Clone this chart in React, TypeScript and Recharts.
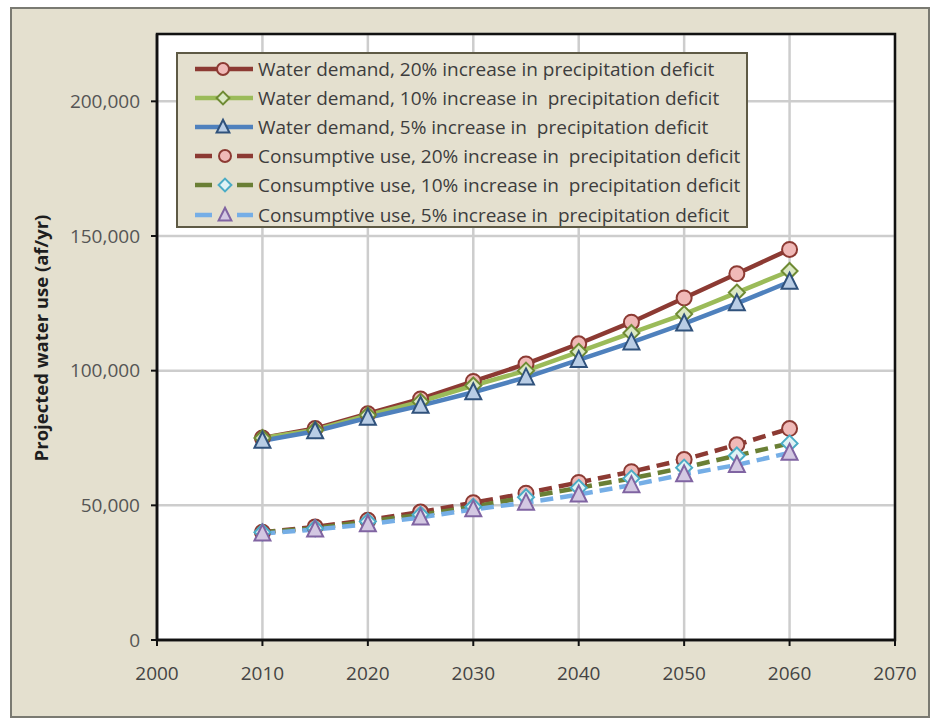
import React from "react";
import { CartesianGrid, Line, LineChart, ReferenceArea, XAxis, YAxis } from "recharts";

const years = [2010, 2015, 2020, 2025, 2030, 2035, 2040, 2045, 2050, 2055, 2060];
const demand20 = [75000, 78500, 84000, 89500, 96000, 102500, 110000, 118000, 127000, 136000, 145000];
const demand10 = [75000, 78000, 83500, 88500, 94500, 100000, 107000, 114000, 121000, 129000, 137000];
const demand5 = [74000, 77500, 82500, 87000, 92000, 97500, 104000, 110500, 117500, 125000, 133000];
const consumptive20 = [40000, 42000, 44500, 47500, 51000, 54500, 58500, 62500, 67000, 72500, 78500];
const consumptive10 = [40000, 41500, 44000, 46500, 49500, 53000, 56500, 60000, 64000, 68500, 73000];
const consumptive5 = [39500, 41000, 43000, 45500, 48500, 51000, 54000, 57500, 61500, 65000, 69500];

const xTicks = [2000, 2010, 2020, 2030, 2040, 2050, 2060, 2070];
const yTicks = [0, 50000, 100000, 150000, 200000];

const seriesLabels = [
  "Water demand, 20% increase in precipitation deficit",
  "Water demand, 10% increase in  precipitation deficit",
  "Water demand, 5% increase in  precipitation deficit",
  "Consumptive use, 20% increase in  precipitation deficit",
  "Consumptive use, 10% increase in  precipitation deficit",
  "Consumptive use, 5% increase in  precipitation deficit",
];

type Shape = "circle" | "diamond" | "triangle";

type SeriesConfig = {
  key: string;
  label: string;
  color: string;
  dashed: boolean;
  shape: Shape;
  markerFill: string;
  markerStroke: string;
};

const series: SeriesConfig[] = [
  { key: "demand20", label: seriesLabels[0], color: "#8c3a33", dashed: false, shape: "circle", markerFill: "#f0b9b7", markerStroke: "#8c3a33" },
  { key: "demand10", label: seriesLabels[1], color: "#9bbb59", dashed: false, shape: "diamond", markerFill: "#dbe8c4", markerStroke: "#6f8b34" },
  { key: "demand5", label: seriesLabels[2], color: "#4f81bd", dashed: false, shape: "triangle", markerFill: "#b9cde5", markerStroke: "#30527c" },
  { key: "consumptive20", label: seriesLabels[3], color: "#8c3a33", dashed: true, shape: "circle", markerFill: "#f0b9b7", markerStroke: "#8c3a33" },
  { key: "consumptive10", label: seriesLabels[4], color: "#6a7f35", dashed: true, shape: "diamond", markerFill: "#dff3f5", markerStroke: "#4bacc6" },
  { key: "consumptive5", label: seriesLabels[5], color: "#75aee6", dashed: true, shape: "triangle", markerFill: "#d3c8e2", markerStroke: "#8064a2" },
];

const data = years.map((year, i) => ({
  year,
  demand20: demand20[i],
  demand10: demand10[i],
  demand5: demand5[i],
  consumptive20: consumptive20[i],
  consumptive10: consumptive10[i],
  consumptive5: consumptive5[i],
}));

const Marker = ({ cx, cy, cfg, s = 1 }: { cx: number; cy: number; cfg: SeriesConfig; s?: number }) => {
  const common = { fill: cfg.markerFill, stroke: cfg.markerStroke, strokeWidth: 2 };
  if (cfg.shape === "circle") return <circle cx={cx} cy={cy} r={7.5 * s} {...common} />;
  if (cfg.shape === "diamond")
    return (
      <path
        d={`M${cx},${cy - 8 * s} L${cx + 8 * s},${cy} L${cx},${cy + 8 * s} L${cx - 8 * s},${cy} Z`}
        {...common}
      />
    );
  return (
    <path
      d={`M${cx},${cy - 9 * s} L${cx + 8 * s},${cy + 7 * s} L${cx - 8 * s},${cy + 7 * s} Z`}
      {...common}
    />
  );
};

const formatThousands = (v: number) => v.toLocaleString("en-US");

const font = "'Open Sans', sans-serif";

const LegendBox = () => (
  <div
    style={{
      position: "absolute",
      left: 176,
      top: 52,
      width: 572,
      height: 176,
      background: "#e4e0cf",
      border: "2px solid #5e5a45",
      boxSizing: "border-box",
      fontFamily: font,
      fontSize: 19,
      color: "#3d3d3d",
    }}
  >
    {series.map((s) => (
      <div key={s.key} style={{ display: "flex", alignItems: "center", height: 29.2 }}>
        <svg width={80} height={20} style={{ flex: "none" }}>
          {s.dashed ? (
            <>
              <line x1={17} y1={10} x2={34} y2={10} stroke={s.color} strokeWidth={4.5} />
              <line x1={59} y1={10} x2={75} y2={10} stroke={s.color} strokeWidth={4.5} />
            </>
          ) : (
            <line x1={17} y1={10} x2={75} y2={10} stroke={s.color} strokeWidth={4.5} />
          )}
          <Marker cx={s.dashed ? 47 : 45} cy={10} cfg={s} s={0.8} />
        </svg>
        <span style={{ whiteSpace: "pre" }}>{s.label}</span>
      </div>
    ))}
  </div>
);

export default function App() {
  return (
    <div style={{ position: "absolute", left: 0, top: 0, width: 938, height: 724, background: "#ffffff" }}>
      <div
        style={{
          position: "absolute",
          left: 10,
          top: 7,
          width: 920,
          height: 711,
          background: "#e4e0cf",
          border: "2px solid #7a7a72",
          boxSizing: "border-box",
        }}
      />
      <div
        style={{
          position: "absolute",
          left: 40,
          top: 338,
          transform: "translate(-50%, -50%) rotate(-90deg)",
          whiteSpace: "nowrap",
          fontFamily: font,
          fontWeight: 700,
          fontSize: 18.5,
          color: "#1e1e1e",
        }}
      >
        Projected water use (af/yr)
      </div>
      <div style={{ position: "absolute", left: 0, top: 0 }}>
        <LineChart
          width={938}
          height={724}
          data={data}
          margin={{ top: 34, right: 43, bottom: 34, left: 67 }}
        >
          <CartesianGrid fill="#ffffff" stroke="#cdcdcd" strokeWidth={2.5} />
          <XAxis
            dataKey="year"
            type="number"
            domain={[2000, 2070]}
            ticks={xTicks}
            interval={0}
            height={50}
            axisLine={{ stroke: "#111", strokeWidth: 2.5 }}
            tickLine={{ stroke: "#111", strokeWidth: 2 }}
            tickSize={6}
            tickMargin={21}
            tick={{ fill: "#444", fontSize: 19, fontFamily: font }}
          />
          <YAxis
            type="number"
            domain={[0, 225000]}
            ticks={yTicks}
            interval={0}
            width={90}
            allowDataOverflow
            tickFormatter={formatThousands}
            axisLine={{ stroke: "#111", strokeWidth: 2.5 }}
            tickLine={{ stroke: "#111", strokeWidth: 2 }}
            tickSize={6}
            tickMargin={11}
            tick={{ fill: "#555", fontSize: 19, fontFamily: font }}
          />
          <ReferenceArea
            x1={2000}
            x2={2070}
            y1={0}
            y2={225000}
            fill="none"
            stroke="#111"
            strokeWidth={2.5}
            ifOverflow="visible"
          />
          {series.map((s) => (
            <Line
              key={s.key}
              type="linear"
              dataKey={s.key}
              name={s.label}
              stroke={s.color}
              strokeWidth={4.5}
              strokeDasharray={s.dashed ? "13 7" : undefined}
              isAnimationActive={false}
              activeDot={false}
              dot={(p: any) => <Marker key={`${s.key}-${p.index}`} cx={p.cx} cy={p.cy} cfg={s} />}
            />
          ))}
        </LineChart>
      </div>
      <LegendBox />
    </div>
  );
}
